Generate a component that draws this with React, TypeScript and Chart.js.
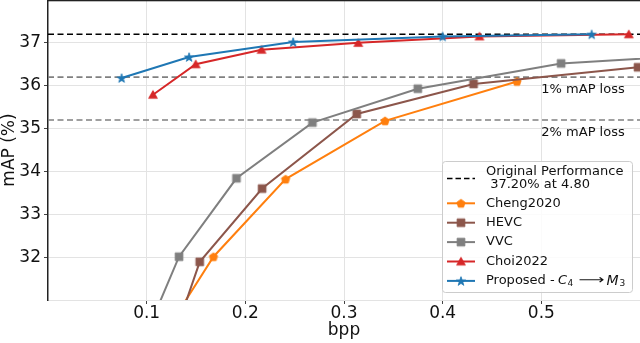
import React, { useEffect, useRef } from "react";
import { Chart, registerables } from "chart.js";

Chart.register(...registerables);

// ---- data ----
const xTickValues = [0.1, 0.2, 0.3, 0.4, 0.5];
const yTickValues = [32, 33, 34, 35, 36, 37];
const xRange = [0, 0.6];
const yRange = [31, 38];

const chengBpp = [0.126, 0.1677, 0.2408, 0.3416, 0.4753];
const chengMap = [30.5, 32.01, 33.82, 35.18, 36.1];

const hevcBpp = [0.133, 0.1538, 0.217, 0.3129, 0.4313, 0.598];
const hevcMap = [30.5, 31.89, 33.6, 35.34, 36.04, 36.43];

const vvcBpp = [0.105, 0.1328, 0.191, 0.268, 0.3748, 0.52, 0.65];
const vvcMap = [30.5, 32.01, 33.84, 35.14, 35.93, 36.52, 36.7];

const choiBpp = [0.1064, 0.1497, 0.2164, 0.3145, 0.4373, 0.5886];
const choiMap = [35.79, 36.5, 36.84, 37.0, 37.15, 37.2];

const propBpp = [0.0746, 0.143, 0.2485, 0.4, 0.551];
const propMap = [36.18, 36.67, 37.02, 37.15, 37.2];

const originalMap = 37.2;
const originalBpp = 4.8;
const lossLevels = [36.2, 35.2];
const lossLabels = ["1% mAP loss", "2% mAP loss"];

const FONT = "'DejaVu Sans', sans-serif";
const LEG = 13;

type Shape = "square" | "triangle" | "star" | "pentagon";

function makeMarker(shape: Shape, color: string): HTMLCanvasElement {
  const S = 14;
  const c = document.createElement("canvas");
  c.width = S;
  c.height = S;
  const g = c.getContext("2d")!;
  g.fillStyle = color;
  g.strokeStyle = color;
  g.lineWidth = 0.8;
  const cx = S / 2;
  const cy = S / 2;
  g.beginPath();
  if (shape === "square") {
    g.rect(cx - 3.9, cy - 3.9, 7.8, 7.8);
  } else if (shape === "triangle") {
    g.moveTo(cx, cy - 4.2);
    g.lineTo(cx + 4.4, cy + 3.6);
    g.lineTo(cx - 4.4, cy + 3.6);
    g.closePath();
  } else if (shape === "star") {
    for (let i = 0; i < 10; i++) {
      const r = i % 2 === 0 ? 4.8 : 1.9;
      const a = -Math.PI / 2 + (i * Math.PI) / 5;
      const px = cx + r * Math.cos(a);
      const py = cy + r * Math.sin(a) + 0.5;
      if (i === 0) g.moveTo(px, py);
      else g.lineTo(px, py);
    }
    g.closePath();
  } else {
    for (let i = 0; i < 5; i++) {
      const r = 4.4;
      const a = -Math.PI / 2 + (i * 2 * Math.PI) / 5;
      const px = cx + r * Math.cos(a);
      const py = cy + r * Math.sin(a) + 0.4;
      if (i === 0) g.moveTo(px, py);
      else g.lineTo(px, py);
    }
    g.closePath();
  }
  g.fill();
  g.stroke();
  return c;
}

export default function App() {
  const ref = useRef<HTMLCanvasElement | null>(null);

  useEffect(() => {
    if (!ref.current) return;

    const series = [
      { label: "Cheng2020", xs: chengBpp, ys: chengMap, color: "#ff7f0e", shape: "pentagon" as Shape, order: 4 },
      { label: "HEVC", xs: hevcBpp, ys: hevcMap, color: "#8c564b", shape: "square" as Shape, order: 3 },
      { label: "VVC", xs: vvcBpp, ys: vvcMap, color: "#7f7f7f", shape: "square" as Shape, order: 2 },
      { label: "Choi2022", xs: choiBpp, ys: choiMap, color: "#d62728", shape: "triangle" as Shape, order: 1 },
      { label: "Proposed", xs: propBpp, ys: propMap, color: "#1f77b4", shape: "star" as Shape, order: 0 },
    ];
    const markers = series.map((s) => makeMarker(s.shape, s.color));

    const dataSets: any[] = series.map((s, i) => ({
      label: s.label,
      data: s.xs.map((x, j) => ({ x, y: s.ys[j] })),
      borderColor: s.color,
      backgroundColor: s.color,
      borderWidth: 2,
      pointStyle: markers[i],
      pointRadius: 5,
      pointHoverRadius: 5,
      order: s.order,
    }));

    dataSets.push({
      label: "Original",
      data: [
        { x: xRange[0], y: originalMap },
        { x: xRange[1], y: originalMap },
      ],
      borderColor: "#000000",
      borderDash: [6, 3.5],
      borderWidth: 1.6,
      pointRadius: 0,
      order: 10,
    });
    lossLevels.forEach((lv, i) => {
      dataSets.push({
        label: lossLabels[i],
        data: [
          { x: xRange[0], y: lv },
          { x: xRange[1], y: lv },
        ],
        borderColor: "#808080",
        borderDash: [6, 3.5],
        borderWidth: 1.6,
        pointRadius: 0,
        order: 11 + i,
      });
    });

    const decorPlugin = {
      id: "decor",
      afterDraw(chart: any) {
        const { ctx, chartArea, scales } = chart;
        ctx.save();
        // top spine
        ctx.fillStyle = "#222";
        ctx.fillRect(chartArea.left - 0.75, chartArea.top, chartArea.right - chartArea.left + 1, 1.3);

        // loss annotations
        ctx.font = `${LEG}px ${FONT}`;
        ctx.fillStyle = "#111";
        ctx.textAlign = "left";
        ctx.textBaseline = "middle";
        lossLevels.forEach((lv, i) => {
          ctx.fillText(lossLabels[i], scales.x.getPixelForValue(0.5), scales.y.getPixelForValue(lv - 0.3));
        });

        // legend
        const w = 190;
        const h = 131;
        const bx = chartArea.right - 7.5 - w;
        const by = chartArea.bottom - 7.5 - h;
        ctx.beginPath();
        ctx.roundRect(bx, by, w, h, 3);
        ctx.fillStyle = "rgba(255,255,255,0.85)";
        ctx.fill();
        ctx.strokeStyle = "#cccccc";
        ctx.lineWidth = 1;
        ctx.stroke();

        const hx1 = bx + 4.5;
        const hx2 = bx + 32.5;
        const tx = bx + 43.5;
        ctx.fillStyle = "#111";
        ctx.font = `${LEG}px ${FONT}`;
        ctx.textBaseline = "middle";
        ctx.textAlign = "left";

        // Original performance entry
        ctx.save();
        ctx.beginPath();
        ctx.setLineDash([5.5, 3]);
        ctx.strokeStyle = "#000";
        ctx.lineWidth = 1.6;
        ctx.moveTo(hx1, by + 17);
        ctx.lineTo(hx2, by + 17);
        ctx.stroke();
        ctx.restore();
        ctx.fillText("Original Performance", tx, by + 10.5);
        ctx.fillText(` ${originalMap.toFixed(2)}% at ${originalBpp.toFixed(2)}`, tx, by + 23);

        series.forEach((s, i) => {
          const y = by + 41.8 + i * 19.4;
          ctx.beginPath();
          ctx.strokeStyle = s.color;
          ctx.lineWidth = 2;
          ctx.moveTo(hx1, y);
          ctx.lineTo(hx2, y);
          ctx.stroke();
          const m = markers[i];
          ctx.drawImage(m, (hx1 + hx2) / 2 - m.width / 2, y - m.height / 2);
          ctx.fillStyle = "#111";
          ctx.font = `${LEG}px ${FONT}`;
          if (s.label !== "Proposed") {
            ctx.fillText(s.label, tx, y);
          } else {
            ctx.fillText("Proposed -", tx, y);
            ctx.font = `italic ${LEG}px ${FONT}`;
            ctx.fillText("C", tx + 72, y);
            ctx.font = `9px ${FONT}`;
            ctx.fillText("4", tx + 81.5, y + 3);
            // long right arrow, stretched to the width of the mathtext arrow
            ctx.save();
            ctx.font = `${LEG}px ${FONT}`;
            const aw = ctx.measureText("\u27F6").width;
            ctx.translate(tx + 92.5, y);
            ctx.scale(26 / aw, 1);
            ctx.fillText("\u27F6", 0, 0);
            ctx.restore();
            ctx.font = `italic 14px ${FONT}`;
            ctx.fillText("M", tx + 120.5, y);
            ctx.font = `9px ${FONT}`;
            ctx.fillText("3", tx + 133.5, y + 3);
          }
        });
        ctx.restore();
      },
    };

    const tickFont = { family: FONT, size: 17 };

    const chart = new Chart(ref.current, {
      type: "line",
      data: { datasets: dataSets },
      options: {
        responsive: false,
        animation: false,
        events: [],
        layout: { padding: 0, autoPadding: false },
        plugins: { legend: { display: false }, tooltip: { enabled: false } },
        scales: {
          x: {
            type: "linear",
            min: xRange[0],
            max: xRange[1],
            afterBuildTicks: (s: any) => {
              s.ticks = xTickValues.map((v) => ({ value: v }));
            },
            afterFit: (s: any) => {
              s.height = 43;
              s.paddingLeft = 0;
              s.paddingRight = 0;
            },
            ticks: {
              font: tickFont,
              color: "#111",
              padding: -1,
              maxRotation: 0,
              autoSkip: false,
              callback: (v: any) => Number(v).toFixed(1),
            },
            grid: { color: "#e3e3e3", lineWidth: 1, tickLength: 4, tickColor: "#444" },
            border: { display: true, color: "#e3e3e3", width: 1 },
            title: { display: true, text: "bpp", font: tickFont, color: "#111", padding: { top: 0, bottom: 2 } },
          },
          y: {
            type: "linear",
            min: yRange[0],
            max: yRange[1],
            afterBuildTicks: (s: any) => {
              s.ticks = yTickValues.map((v) => ({ value: v }));
            },
            afterFit: (s: any) => {
              s.width = 48;
              s.paddingTop = 0;
              s.paddingBottom = 0;
            },
            ticks: {
              font: tickFont,
              color: "#111",
              padding: 3,
              autoSkip: false,
              callback: (v: any) => String(v),
            },
            grid: { color: "#e3e3e3", lineWidth: 1, tickLength: 4, tickColor: "#444" },
            border: { display: true, color: "#222", width: 1.5 },
            title: { display: true, text: "mAP (%)", font: tickFont, color: "#111", padding: { top: -1, bottom: 0 } },
          },
        },
      },
      plugins: [decorPlugin],
    } as any);

    return () => chart.destroy();
  }, []);

  return (
    <div style={{ position: "fixed", left: 0, top: 0, width: 640, height: 343, background: "#fff" }}>
      <canvas ref={ref} width={640} height={343} style={{ width: 640, height: 343, display: "block" }} />
    </div>
  );
}
